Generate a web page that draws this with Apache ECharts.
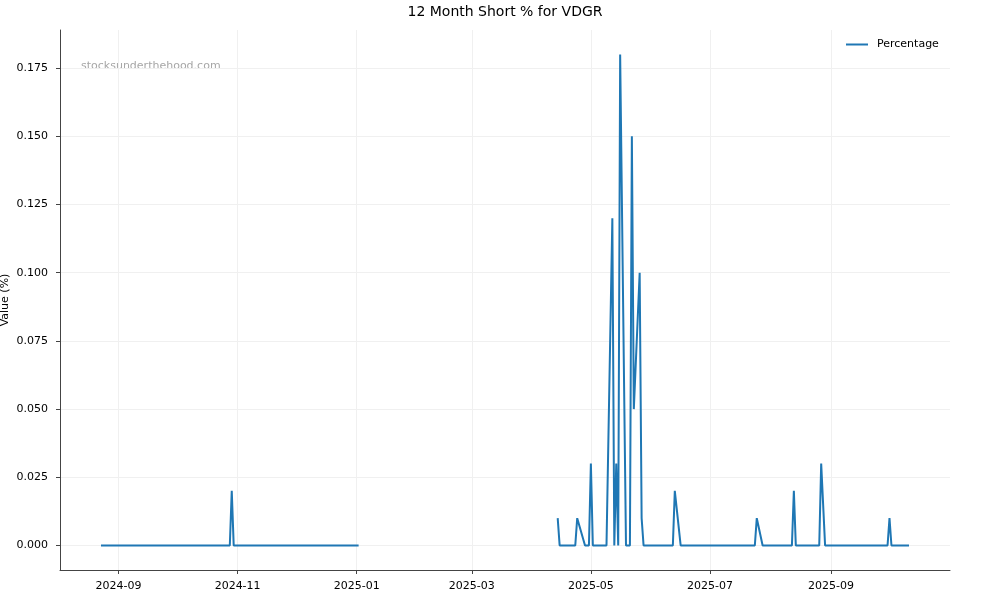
<!DOCTYPE html>
<html>
<head>
<meta charset="utf-8">
<script src="https://cdn.jsdelivr.net/npm/echarts@6/dist/echarts.min.js"></script>
<style>
html,body{margin:0;padding:0;background:#fff;}
#chart{width:1000px;height:600px;}
</style>
</head>
<body>
<div id="chart"></div>
<script>
const dates = ['2024-08-23','2024-10-28','2024-10-29','2024-10-30','2025-01-02','2025-02-15',
  '2025-04-14','2025-04-15','2025-04-23','2025-04-24','2025-04-28','2025-04-30','2025-05-01','2025-05-02',
  '2025-05-09','2025-05-12','2025-05-13','2025-05-14','2025-05-15','2025-05-16','2025-05-19','2025-05-21',
  '2025-05-22','2025-05-23','2025-05-26','2025-05-27','2025-05-28','2025-06-12','2025-06-13','2025-06-16',
  '2025-07-24','2025-07-25','2025-07-28','2025-08-12','2025-08-13','2025-08-14','2025-08-26','2025-08-27',
  '2025-08-29','2025-09-30','2025-10-01','2025-10-02','2025-10-11'];
const percentage = [0,0,0.02,0,0,null,
  0.01,0,0,0.01,0,0,0.03,0,
  0,0.12,0,0.03,0,0.18,0,0,
  0.15,0.05,0.10,0.01,0,0,0.02,0,
  0,0.01,0,0,0.02,0,0,0.03,
  0,0,0.01,0,0];
const xTicks = ['2024-09-01','2024-11-01','2025-01-01','2025-03-01','2025-05-01','2025-07-01','2025-09-01'];
const yTicks = [0,0.025,0.05,0.075,0.1,0.125,0.15,0.175];
const xRange = ['2024-08-02','2025-11-01'];
const yRange = [-0.009,0.189];

const toTime = s => new Date(s + 'T00:00:00Z').getTime();
const seriesData = dates.map((d,i)=>[toTime(d), percentage[i]]);
const FONT = 'DejaVu Sans';
const chart = echarts.init(document.getElementById('chart'), null, {renderer:'canvas'});
chart.setOption({
  animation:false,
  backgroundColor:'#fff',
  textStyle:{fontFamily:FONT},
  grid:{left:60,right:50,top:30,bottom:30,containLabel:false,outerBoundsMode:'none'},
  graphic:[
    {type:'text', x:505, y:12, style:{text:'12 Month Short % for VDGR', font:'14px "DejaVu Sans"', fill:'#000', align:'center', verticalAlign:'middle'}},
    {type:'text', x:81, y:66, style:{text:'stocksunderthehood.com', font:'11px "DejaVu Sans"', fill:'#a6a6a6', align:'left', verticalAlign:'middle'}}
  ],
  legend:{
    data:['Percentage'], left:846, top:39, padding:0, itemWidth:22, itemHeight:2, icon:'rect',
    textStyle:{fontSize:11, color:'#000', fontFamily:FONT, padding:[0,0,0,4]}
  },
  xAxis:{
    type:'value', min:toTime(xRange[0]), max:toTime(xRange[1]),
    axisLine:{show:true, onZero:false, lineStyle:{color:'#444', width:1}},
    axisTick:{show:true, length:4, inside:false, lineStyle:{color:'#444'}, customValues:xTicks.map(toTime)},
    axisLabel:{customValues:xTicks.map(toTime), fontSize:11, color:'#000', fontFamily:FONT, margin:11, hideOverlap:false,
      formatter:(v)=>{const d=new Date(v);return d.getUTCFullYear()+'-'+String(d.getUTCMonth()+1).padStart(2,'0');}},
    splitLine:{show:true, lineStyle:{color:'#f0f0f0', width:1}}
  },
  yAxis:{
    type:'value', min:yRange[0], max:yRange[1],
    name:'Value (%)', nameLocation:'middle', nameGap:49, nameRotate:90, nameMoveOverlap:false,
    nameTextStyle:{fontSize:11, color:'#000', fontFamily:FONT},
    axisLine:{show:true, onZero:false, lineStyle:{color:'#444', width:1}},
    axisTick:{show:true, length:4, inside:false, lineStyle:{color:'#444'}, customValues:yTicks},
    axisLabel:{customValues:yTicks, fontSize:11, color:'#000', fontFamily:FONT, margin:12,
      formatter:(v)=>v.toFixed(3)},
    splitLine:{show:true, lineStyle:{color:'#f0f0f0', width:1}}
  },
  series:[{
    name:'Percentage', type:'line', data:seriesData, showSymbol:false, symbol:'none',
    connectNulls:false,
    lineStyle:{color:'#1f77b4', width:2}, itemStyle:{color:'#1f77b4'}
  }]
});
</script>
</body>
</html>
